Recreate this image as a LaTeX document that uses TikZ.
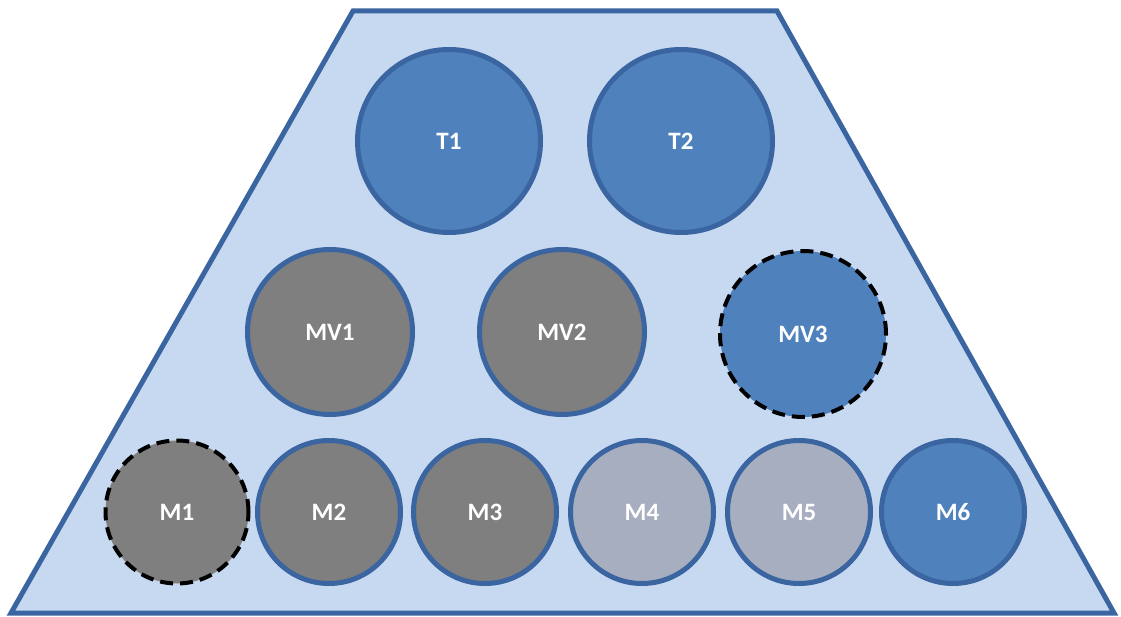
\documentclass[tikz,border=0pt]{standalone}
\usepackage{fontspec}
\setmainfont{Carlito}
\definecolor{panelfill}{HTML}{C6D9F1}
\definecolor{rim}{HTML}{3B65A0}
\definecolor{blue}{HTML}{4F81BD}
\definecolor{grey}{HTML}{7F7F7F}
\definecolor{lgrey}{HTML}{A6AEBF}

\begin{document}
\begin{tikzpicture}[x=1pt,y=-1pt]
    \tikzset{%
      unit/.style={circle, draw=rim, line width=5pt, inner sep=0pt,
        text=white, font=\bfseries\fontsize{25}{25}\selectfont,
        minimum size=#1},
      spare/.style={draw=black, line width=4pt,
        dash pattern=on 13pt off 7pt},
      panel/.style={draw=rim, fill=panelfill, line width=5pt,
        line join=miter},
    }
    \useasboundingbox (0,0) rectangle (1121,617);
    \draw [panel] (353,11) -- (777,11) -- (1114,613) -- (11,613) -- cycle;
    % top row
    \node[unit=183pt, fill=blue] (T1) at (449,141) {T1};
    \node[unit=183pt, fill=blue] (T2) at (681,141) {T2};
    % middle row
    \node[unit=165pt, fill=grey] (MV1) at (330,332) {MV1};
    \node[unit=165pt, fill=grey] (MV2) at (562,332) {MV2};
    \node[unit=166pt, fill=blue, spare] (MV3) at (803,334) {MV3};
    % bottom row
    \node[unit=143pt, fill=grey, spare] (M1) at (177,512) {M1};
    \node[unit=143pt, fill=grey] (M2) at (329,512) {M2};
    \node[unit=143pt, fill=grey] (M3) at (485,512) {M3};
    \node[unit=143pt, fill=lgrey] (M4) at (642,512) {M4};
    \node[unit=143pt, fill=lgrey] (M5) at (799,512) {M5};
    \node[unit=143pt, fill=blue] (M6) at (953,512) {M6};
\end{tikzpicture}
\end{document}
